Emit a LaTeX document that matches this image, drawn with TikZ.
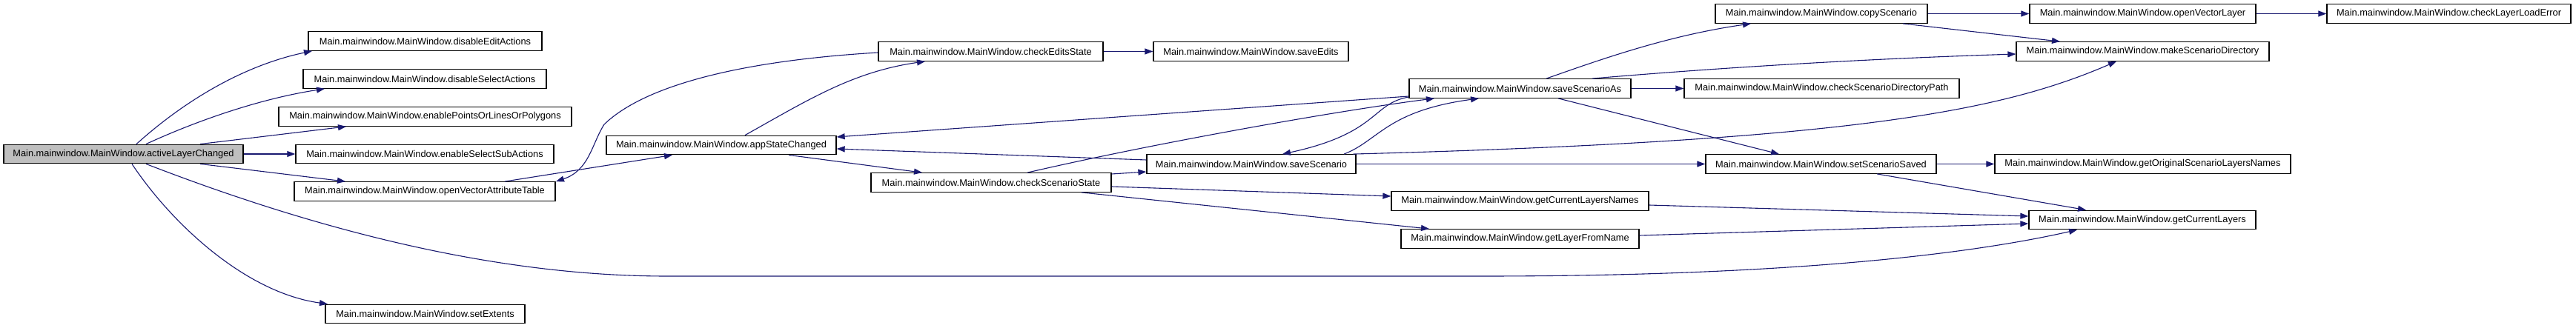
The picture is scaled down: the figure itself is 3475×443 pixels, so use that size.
\documentclass[tikz,border=0pt]{standalone}
\usepackage{fontspec}
\setmainfont{Liberation Sans}
\usetikzlibrary{arrows.meta}
\definecolor{edgeblue}{HTML}{191970}
\definecolor{rootgray}{HTML}{BFBFBF}
\tikzset{
  fbox/.style={draw=black, fill=white, line width=1.3pt, inner sep=0pt, minimum height=25.5pt,
    font=\fontsize{12.8}{15}\selectfont},
  rootbox/.style={fbox, fill=rootgray},
  edge/.style={draw=edgeblue, line width=1.1pt, -{Triangle[length=11pt,width=8pt]}},
}
\newcommand\fnode[6][fbox]{\node[#1, minimum width=#5pt] (#2) at (#3,#4) {Main.mainwindow.MainWindow.#6};}
\begin{document}
\begin{tikzpicture}[x=1pt,y=-1pt]
\useasboundingbox (0,0) rectangle (3475,443);
% nodes
\fnode[rootbox]{alc}{166.5}{208}{323}{activeLayerChanged}
\fnode{dea}{573.5}{55.5}{315}{disableEditActions}
\fnode{dsa}{573}{106.5}{328}{disableSelectActions}
\fnode{epl}{573.5}{157.5}{395}{enablePointsOrLinesOrPolygons}
\fnode{ess}{573}{208}{348}{enableSelectSubActions}
\fnode{ova}{573}{258.5}{352}{openVectorAttributeTable}
\fnode{sex}{573.5}{424}{269}{setExtents}
\fnode{asc}{973}{196}{310}{appStateChanged}
\fnode{ces}{1336.5}{69.5}{303}{checkEditsState}
\fnode{sed}{1687.5}{69.5}{263}{saveEdits}
\fnode{css}{1337}{246.5}{324}{checkScenarioState}
\fnode{ssc}{1688}{221.5}{282}{saveScenario}
\fnode{ssa}{2050.5}{119.5}{299}{saveScenarioAs}
\fnode{gcln}{2050.5}{271.5}{347}{getCurrentLayersNames}
\fnode{glfn}{2050.5}{322.5}{321}{getLayerFromName}
\fnode{cps}{2457}{18.5}{286}{copyScenario}
\fnode{csdp}{2457.5}{119.5}{371}{checkScenarioDirectoryPath}
\fnode{sss}{2456.5}{221.5}{311}{setScenarioSaved}
\fnode{ovl}{2890.5}{18.5}{305}{openVectorLayer}
\fnode{msd}{2890.5}{69.5}{341}{makeScenarioDirectory}
\fnode{gosl}{2890.5}{221.5}{399}{getOriginalScenarioLayersNames}
\fnode{gcl}{2890}{297}{306}{getCurrentLayers}
\fnode{clle}{3303.5}{18.5}{329}{checkLayerLoadError}
% edges from activeLayerChanged
\draw[edge] (184,0 |- alc.north) .. controls (250,135) and (330,88) .. (421,0 |- dea.south);
\draw[edge] (197,0 |- alc.north) .. controls (250,170) and (340,135) .. (438,0 |- dsa.south);
\draw[edge] (270,0 |- alc.north) -- (467,0 |- epl.south);
\draw[edge] (alc.east) -- (ess.west);
\draw[edge] (270,0 |- alc.south) -- (466,0 |- ova.north);
\draw[edge] (178,0 |- alc.south) .. controls (230,300) and (330,395) .. (442,0 |- sex.north);
\draw[edge] (197,0 |- alc.south) .. controls (400,300) and (650,373) .. (900,373) -- (2000,373)
  .. controls (2400,373) and (2650,345) .. (2802,0 |- gcl.south);
% openVectorAttributeTable
\draw[edge] (681,0 |- ova.north) -- (907,0 |- asc.south);
% appStateChanged
\draw[edge] (1005,0 |- asc.north) .. controls (1090,135) and (1150,97) .. (1248,0 |- ces.south);
\draw[edge] (1064,0 |- asc.south) -- (1244,0 |- css.north);
% checkEditsState
\draw[edge] (ces.east) -- (sed.west);
\draw[edge] (ces.west |- 0,71) .. controls (1000,82) and (870,115) .. (815,168)
  .. controls (798,195) and (795,230) .. (750,0 |- ova.north);
% checkScenarioState
\draw[edge] (css.east |- 0,235) -- (ssc.west |- 0,232);
\draw[edge] (1386,0 |- css.north) .. controls (1550,195) and (1800,150) .. (1935,0 |- ssa.south);
\draw[edge] (css.east |- 0,252) -- (gcln.west |- 0,265);
\draw[edge] (1459,0 |- css.south) -- (1928,0 |- glfn.north);
% saveScenarioAs
\draw[edge] (ssa.west |- 0,130) -- (asc.east |- 0,185);
\draw[edge] (ssa.west |- 0,131) .. controls (1850,140) and (1860,180) .. (1730,0 |- ssc.north);
\draw[edge] (ssa.east) -- (csdp.west);
\draw[edge] (2086,0 |- ssa.north) .. controls (2160,80) and (2250,48) .. (2362,0 |- cps.south);
\draw[edge] (2148,0 |- ssa.north) .. controls (2300,93) and (2500,80) .. (msd.west |- 0,73);
\draw[edge] (2102,0 |- ssa.south) -- (2400,0 |- sss.north);
% saveScenario
\draw[edge] (ssc.west |- 0,216) -- (asc.east |- 0,201);
\draw[edge] (1813,0 |- ssc.north) .. controls (1860,190) and (1870,150) .. (1995,0 |- ssa.south);
\draw[edge] (1825,0 |- ssc.north) .. controls (2500,190) and (2700,150) .. (2855,0 |- msd.south);
\draw[edge] (ssc.east) -- (sss.west);
% lower right
\draw[edge] (gcln.east |- 0,277) -- (gcl.west |- 0,292);
\draw[edge] (glfn.east |- 0,318) -- (gcl.west |- 0,302);
\draw[edge] (2532,0 |- sss.south) -- (2814,0 |- gcl.north);
\draw[edge] (sss.east) -- (gosl.west);
% top right
\draw[edge] (cps.east) -- (ovl.west);
\draw[edge] (2567,0 |- cps.south) -- (2779,0 |- msd.north);
\draw[edge] (ovl.east) -- (clle.west);
\end{tikzpicture}
\end{document}
